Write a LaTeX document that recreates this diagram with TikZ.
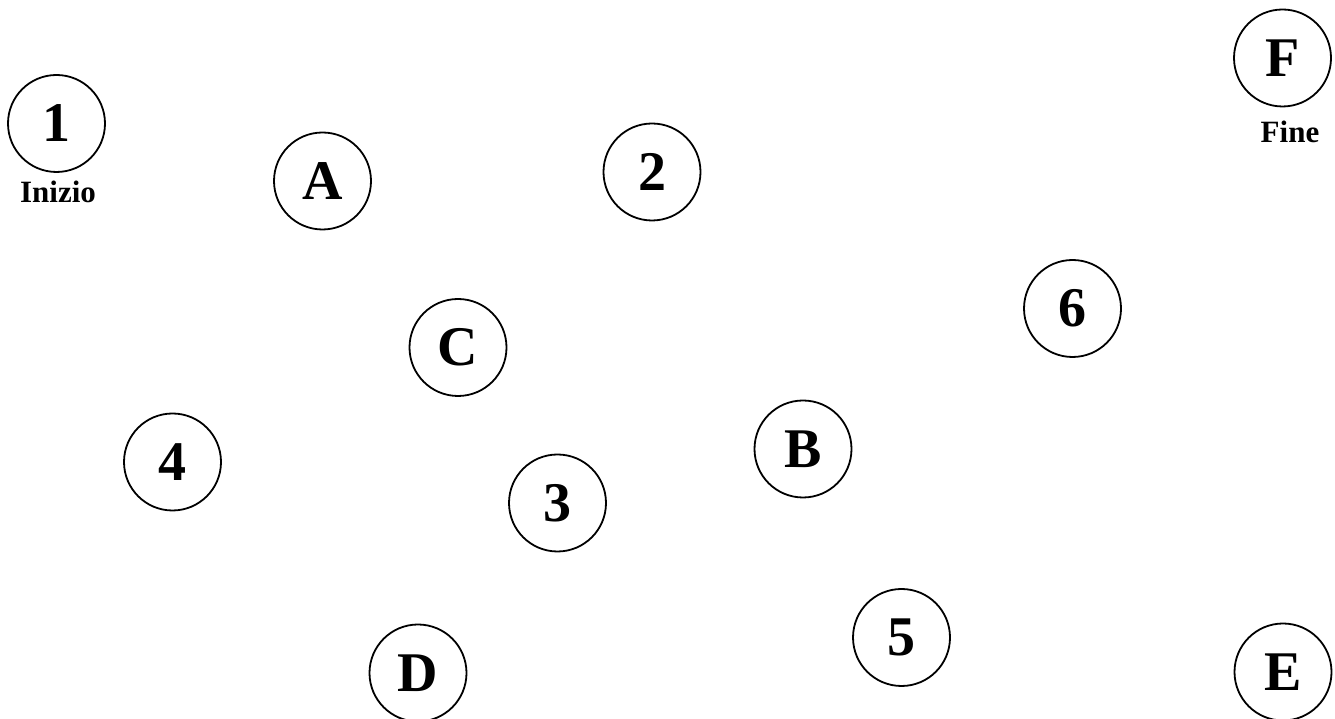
\documentclass[tikz,border=0pt]{standalone}
\usepackage{fontspec}
\setmainfont{Liberation Serif}
\begin{document}
\begin{tikzpicture}[x=1pt,y=1pt,
  state/.style={circle,draw,line width=1.8pt,minimum size=97pt,inner sep=0pt,
    font=\fontsize{56}{56}\selectfont\bfseries},
  tag/.style={anchor=base,font=\fontsize{31}{31}\selectfont\bfseries}]
\useasboundingbox (0,0) rectangle (1335,719);
\node[state] (n1) at (56.5,595.5) {1};
\node[state] (nA) at (322.5,538) {A};
\node[state] (n2) at (652,547) {2};
\node[state] (nF) at (1282.5,661) {F};
\node[state] (nC) at (458,371.5) {C};
\node[state] (n6) at (1072.5,410.5) {6};
\node[state] (n4) at (172.5,257) {4};
\node[state] (nB) at (803,270) {B};
\node[state] (n3) at (557.5,216) {3};
\node[state] (n5) at (901.5,81.5) {5};
\node[state] (nD) at (418,46) {D};
\node[state] (nE) at (1283,47) {E};
\node[tag] (inizio) at (58,516) {Inizio};
\node[tag] (fine) at (1290,576) {Fine};
\end{tikzpicture}
\end{document}
